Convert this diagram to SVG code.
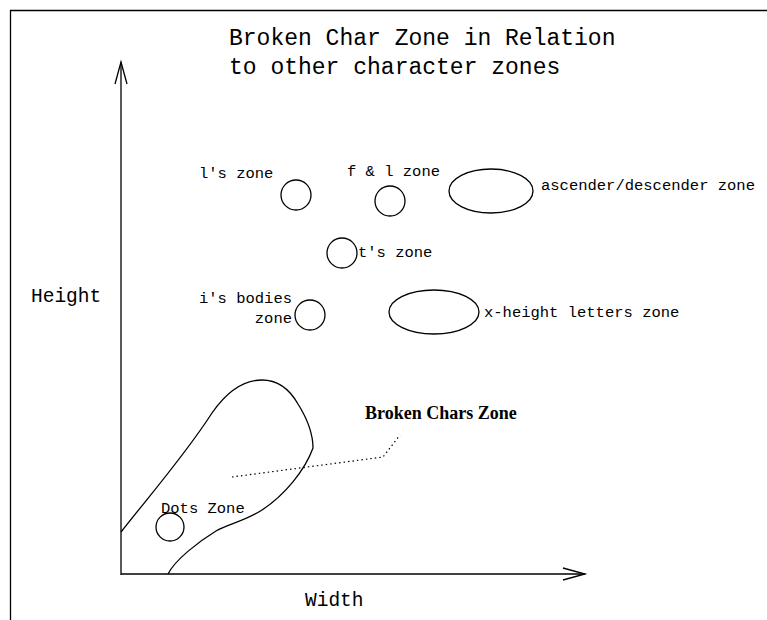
<svg xmlns="http://www.w3.org/2000/svg" width="767" height="620" viewBox="0 0 767 620">
<style>
.s{fill:none;stroke:#000;stroke-width:1.3}
.m{font-family:"Liberation Mono","DejaVu Sans Mono",monospace;fill:#000}
.t{font-size:15.5px}
.ax{font-size:19.5px}
.ti{font-size:23px}
.b{font-family:"Liberation Serif","DejaVu Serif",serif;font-weight:bold;font-size:18px;fill:#000}
</style>
<rect x="0" y="0" width="767" height="620" fill="#fff"/>
<g id="frame">
<path class="s" d="M10.5,620 V10.5 H767"/>
</g>
<g id="title">
<text class="m ti" x="229" y="45">Broken Char Zone in Relation</text>
<text class="m ti" x="229" y="74">to other character zones</text>
</g>
<g id="connectors">
<path class="s" d="M121,575 V62"/>
<path class="s" d="M115,84 L121,62 L127,84"/>
<path class="s" d="M121,574 H585"/>
<path class="s" d="M563,568 L585,574 L563,580"/>
<path fill="none" stroke="#000" stroke-width="1.2" stroke-dasharray="1.5,3" d="M232,477 L383,457 L400,435"/>
</g>
<g id="axis-height"><text class="m ax" x="31" y="302">Height</text></g>
<g id="axis-width"><text class="m ax" x="305" y="606">Width</text></g>
<g id="ls-zone">
<circle class="s" cx="296" cy="195" r="15"/>
<text class="m t" x="199" y="178">l's zone</text>
</g>
<g id="fl-zone">
<circle class="s" cx="390" cy="201" r="15"/>
<text class="m t" x="347" y="176">f &amp; l zone</text>
</g>
<g id="asc-zone">
<ellipse class="s" cx="491" cy="191" rx="42" ry="22"/>
<text class="m t" x="541" y="190">ascender/descender zone</text>
</g>
<g id="ts-zone">
<circle class="s" cx="342" cy="253" r="15"/>
<text class="m t" x="358" y="257">t's zone</text>
</g>
<g id="is-zone">
<circle class="s" cx="310" cy="315" r="15"/>
<text class="m t" x="292" y="303" text-anchor="end">i's bodies</text>
<text class="m t" x="292" y="323" text-anchor="end">zone</text>
</g>
<g id="xh-zone">
<ellipse class="s" cx="434" cy="312" rx="45" ry="22"/>
<text class="m t" x="484" y="317">x-height letters zone</text>
</g>
<g id="broken-zone">
<path class="s" d="M121,532 C150,495 185,455 212,413 C228,390 245,380 262,380 C278,380 290,390 298,404 C308,420 313,435 313,448 C305,470 285,495 262,510 C245,521 228,524 216,531 C198,542 175,560 168,574"/>
<text class="b" x="365" y="419">Broken Chars Zone</text>
</g>
<g id="dots-zone">
<circle class="s" cx="170" cy="527" r="14"/>
<text class="m t" x="161" y="513">Dots Zone</text>
</g>
</svg>
